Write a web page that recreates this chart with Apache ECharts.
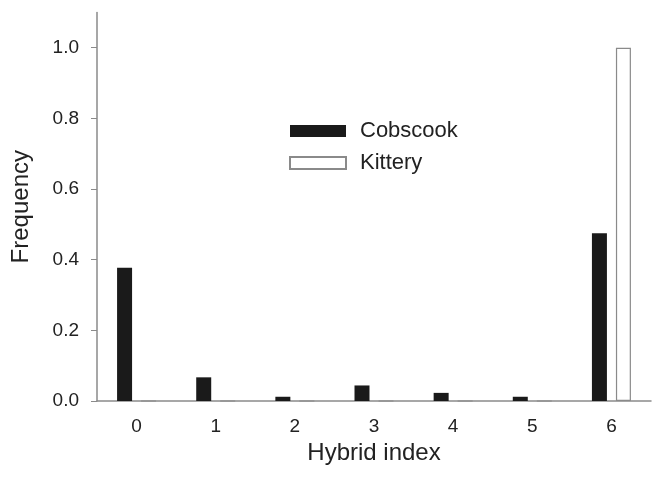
<!DOCTYPE html>
<html>
<head>
<meta charset="utf-8">
<script src="https://cdn.jsdelivr.net/npm/echarts@6/dist/echarts.min.js"></script>
<style>
  html, body { margin: 0; padding: 0; background: #fff; }
  #chart { width: 655px; height: 480px; }
</style>
</head>
<body>
<div id="chart"></div>
<script>
  // hybrid index classes
  const categories = ['0', '1', '2', '3', '4', '5', '6']
  // frequencies
  const cobscook = [0.377, 0.067, 0.012, 0.044, 0.023, 0.012, 0.475]
  const kittery = [0, 0, 0, 0, 0, 0, 1.0]
  const yTicks = [0, 0.2, 0.4, 0.6, 0.8, 1.0]

  const font = 'Liberation Sans, Arial, sans-serif'
  const axisGray = '#8a8a8a'
  const textColor = '#222'

  let chart = echarts.init(document.getElementById('chart'), null, {renderer: 'canvas'})
  chart.setOption({
    animation: false,
    backgroundColor: '#fff',
    grid: {left: 97, right: 4, top: 12.4, bottom: 79, containLabel: false},
    legend: {
      orient: 'vertical',
      left: 289,
      top: 120,
      padding: 0,
      itemWidth: 56,
      itemHeight: 12,
      itemGap: 10,
      icon: 'rect',
      textStyle: {fontFamily: font, fontSize: 22, color: textColor, padding: [0, 0, 0, 9]},
      data: ['Cobscook', 'Kittery']
    },
    xAxis: {
      type: 'category',
      data: categories,
      boundaryGap: true,
      name: 'Hybrid index',
      nameLocation: 'middle',
      nameGap: 32,
      nameTextStyle: {fontFamily: font, fontSize: 24, color: textColor},
      axisLine: {lineStyle: {color: axisGray, width: 1.5}},
      axisTick: {alignWithLabel: true, length: 5, lineStyle: {color: axisGray}},
      axisLabel: {fontFamily: font, fontSize: 19, color: textColor, margin: 16}
    },
    yAxis: {
      type: 'value',
      min: 0,
      max: 1.1,
      interval: 0.2,
      name: 'Frequency',
      nameLocation: 'middle',
      nameGap: 64,
      nameTextStyle: {fontFamily: font, fontSize: 24, color: textColor},
      splitLine: {show: false},
      axisLine: {show: true, lineStyle: {color: axisGray, width: 1.5}},
      axisTick: {show: true, length: 6, customValues: yTicks, lineStyle: {color: axisGray}},
      axisLabel: {
        fontFamily: font, fontSize: 19, color: textColor, margin: 18,
        customValues: yTicks,
        formatter: function (v) { return v.toFixed(1) }
      }
    },
    series: [{
      name: 'Cobscook',
      type: 'bar',
      barWidth: 15,
      barGap: '60%',
      itemStyle: {color: '#1a1a1a'},
      data: cobscook
    }, {
      name: 'Kittery',
      type: 'bar',
      barWidth: 15,
      itemStyle: {color: '#ffffff', borderColor: '#8a8a8a', borderWidth: 1.2},
      data: kittery
    }]
  })
</script>
</body>
</html>
